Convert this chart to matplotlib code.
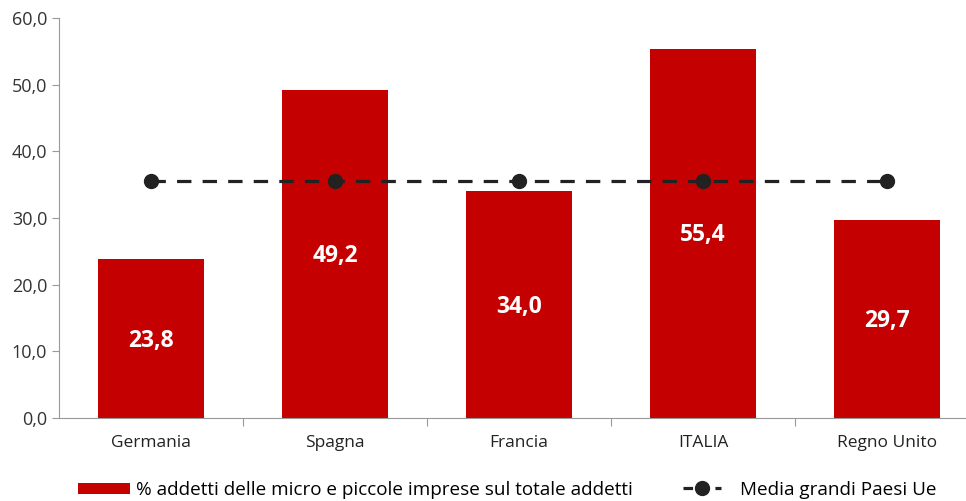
import matplotlib
matplotlib.use("Agg")
import matplotlib.pyplot as plt
from matplotlib.patches import Patch
from matplotlib.lines import Line2D

categories = ["Germania", "Spagna", "Francia", "ITALIA", "Regno Unito"]
values = [23.8, 49.2, 34.0, 55.4, 29.7]
media = [35.6, 35.6, 35.6, 35.6, 35.6]
yticks = [0, 10, 20, 30, 40, 50, 60]

plt.rcParams['font.family'] = ['Open Sans', 'DejaVu Sans']

W, H = 966, 501
fig = plt.figure(figsize=(W/100, H/100), dpi=100)
ax = fig.add_axes([59/W, (H-418)/H, 920/W, 400/H])

red = "#C40000"
x = list(range(len(categories)))
ax.bar(x, values, width=0.58, color=red, zorder=2)
for xi, v in zip(x, values):
    ax.text(xi, v/2 - 0.3, f"{v:.1f}".replace(".", ","), ha="center", va="center",
            color="white", fontsize=16.5, fontweight="bold", zorder=4)
ax.plot(x, media, color="#222222", linestyle=(0, (4.5, 3.5)), linewidth=2.3,
        marker="o", markersize=10, zorder=3)

ax.set_xlim(-0.5, len(categories) - 0.5)
ax.set_ylim(0, 60)
ax.set_yticks(yticks)
ax.set_yticklabels([f"{t:.1f}".replace(".", ",") for t in yticks], fontsize=13, color="#333333")
ax.set_xticks([i + 0.5 for i in x[:-1]], minor=False)
ax.set_xticklabels([])
ax.set_xticks(x, minor=True)
ax.set_xticklabels(categories, minor=True, fontsize=12.5, color="#222222")
ax.tick_params(axis="x", which="minor", length=0, pad=12)
ax.tick_params(axis="x", which="major", length=6, color="#999999", direction="out")
ax.tick_params(axis="y", length=5, color="#999999")
for s in ["top", "right"]:
    ax.spines[s].set_visible(False)
for s in ["left", "bottom"]:
    ax.spines[s].set_color("#999999")

yleg = (H - 490) / H
leg1 = fig.legend([Patch(facecolor=red)],
                  ["% addetti delle micro e piccole imprese sul totale addetti"],
                  loc="center left", bbox_to_anchor=(78/W, yleg), frameon=False,
                  fontsize=13.6, handlelength=2.75, handleheight=0.55,
                  handletextpad=0.3, borderpad=0, borderaxespad=0)
leg2 = fig.legend([Line2D([0], [0], color="#222222", linestyle=(0, (3, 2)), linewidth=2.3,
                          marker="o", markersize=10, markevery=[1])],
                  ["Media grandi Paesi Ue"],
                  loc="center left", bbox_to_anchor=(683/W, yleg), frameon=False,
                  fontsize=13.6, handlelength=2.0, handletextpad=1.0,
                  borderpad=0, borderaxespad=0)

fig.savefig("out.png", dpi=100)
